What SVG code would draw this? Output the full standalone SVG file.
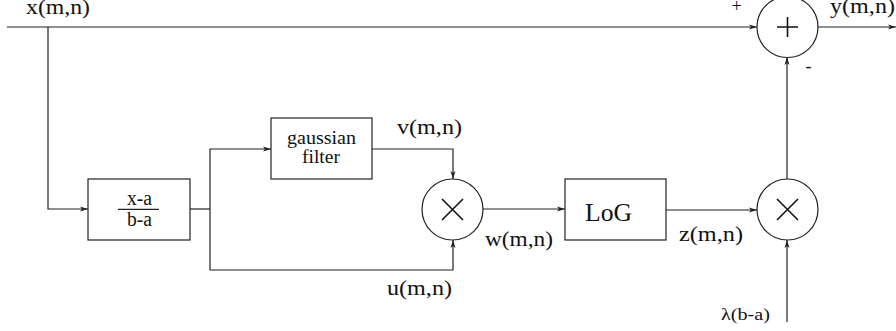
<svg xmlns="http://www.w3.org/2000/svg" width="896" height="331" viewBox="0 0 896 331">
<defs>
<marker id="ah" markerWidth="10" markerHeight="8" refX="8" refY="4" orient="auto" markerUnits="userSpaceOnUse">
<path d="M0,1.5 L8,4 L0,6.5 L2,4 Z" fill="#222"/>
</marker>
<style>
.ln{fill:none;stroke:#222;stroke-width:1.2}
.bx{fill:#fff;stroke:#222;stroke-width:1.2}
.op{fill:none;stroke:#111;stroke-width:1.6}
.t{font-family:"Liberation Serif","Times New Roman",serif;fill:#111}
</style>
</defs>
<rect width="896" height="331" fill="#fff"/>
<g id="connectors">
<line class="ln" x1="7" y1="27" x2="757" y2="27" marker-end="url(#ah)"/>
<line class="ln" x1="818" y1="27" x2="896" y2="27" marker-end="url(#ah)"/>
<polyline class="ln" points="48,27 48,209 88,209" marker-end="url(#ah)"/>
<line class="ln" x1="190" y1="209" x2="210" y2="209"/>
<polyline class="ln" points="210,209 210,149 271,149" marker-end="url(#ah)"/>
<polyline class="ln" points="210,209 210,270 453,270 453,240" marker-end="url(#ah)"/>
<polyline class="ln" points="372,149 453,149 453,179" marker-end="url(#ah)"/>
<line class="ln" x1="483" y1="209" x2="565" y2="209" marker-end="url(#ah)"/>
<line class="ln" x1="666" y1="210" x2="757" y2="210" marker-end="url(#ah)"/>
<line class="ln" x1="787" y1="179" x2="787" y2="57" marker-end="url(#ah)"/>
<line class="ln" x1="787" y1="322" x2="787" y2="240" marker-end="url(#ah)"/>
</g>
<g id="sum">
<circle class="bx" cx="787.5" cy="27" r="30.5"/>
<path class="op" d="M777,27 H798 M787.5,17 V37"/>
</g>
<g id="norm">
<rect class="bx" x="88" y="179" width="102" height="61"/>
<text class="t" x="127" y="205" font-size="20" textLength="25" lengthAdjust="spacingAndGlyphs">x-a</text>
<line class="ln" x1="118" y1="209.3" x2="159" y2="209.3"/>
<text class="t" x="127" y="226" font-size="20" textLength="25" lengthAdjust="spacingAndGlyphs">b-a</text>
</g>
<g id="gaussian">
<rect class="bx" x="271" y="118" width="101" height="61"/>
<text class="t" x="287" y="144" font-size="18" textLength="69" lengthAdjust="spacingAndGlyphs">gaussian</text>
<text class="t" x="302" y="163" font-size="18" textLength="38" lengthAdjust="spacingAndGlyphs">filter</text>
</g>
<g id="mult1">
<circle class="bx" cx="452.5" cy="209.5" r="30.5"/>
<path class="op" d="M442,199 L463,220 M463,199 L442,220"/>
</g>
<g id="log">
<rect class="bx" x="565" y="179" width="101" height="61"/>
<text class="t" x="585" y="221" font-size="25" textLength="47" lengthAdjust="spacingAndGlyphs">LoG</text>
</g>
<g id="mult2">
<circle class="bx" cx="787.5" cy="209.5" r="30.5"/>
<path class="op" d="M777,199 L798,220 M798,199 L777,220"/>
</g>
<g id="labels">
<text class="t" x="26" y="14" font-size="21" textLength="64" lengthAdjust="spacingAndGlyphs">x(m,n)</text>
<text class="t" x="830" y="13" font-size="21" textLength="65" lengthAdjust="spacingAndGlyphs">y(m,n)</text>
<text class="t" x="397" y="134" font-size="21" textLength="65" lengthAdjust="spacingAndGlyphs">v(m,n)</text>
<text class="t" x="387" y="295" font-size="21" textLength="65" lengthAdjust="spacingAndGlyphs">u(m,n)</text>
<text class="t" x="485" y="246" font-size="21" textLength="68" lengthAdjust="spacingAndGlyphs">w(m,n)</text>
<text class="t" x="679" y="241" font-size="21" textLength="64" lengthAdjust="spacingAndGlyphs">z(m,n)</text>
<text class="t" x="721" y="320" font-size="16" textLength="49" lengthAdjust="spacingAndGlyphs">λ(b-a)</text>
<text class="t" x="736.5" y="12" font-size="18" text-anchor="middle">+</text>
<text class="t" x="808.5" y="72" font-size="18" text-anchor="middle">-</text>
</g>
</svg>
